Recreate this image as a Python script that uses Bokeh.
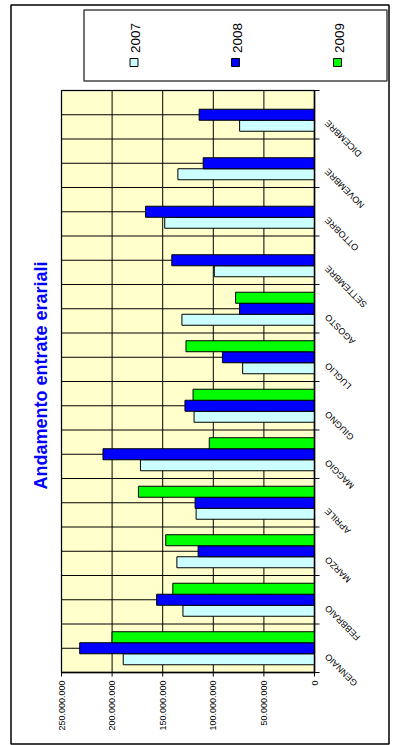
import math
import numpy as np

from bokeh.core.properties import value
from bokeh.embed import file_html
from bokeh.models import ColumnDataSource, Range1d
from bokeh.plotting import figure
from bokeh.resources import INLINE
from bokeh.transform import dodge

# ---- data -------------------------------------------------------------------
months = ["GENNAIO", "FEBBRAIO", "MARZO", "APRILE", "MAGGIO", "GIUGNO",
          "LUGLIO", "AGOSTO", "SETTEMBRE", "OTTOBRE", "NOVEMBRE", "DICEMBRE"]
years = ["2007", "2008", "2009"]
v2007 = [189e6, 130e6, 136e6, 117e6, 172e6, 119e6, 71e6, 131e6, 99e6, 148e6, 135e6, 74e6]
v2008 = [232e6, 156e6, 115e6, 118e6, 209e6, 128e6, 91e6, 74e6, 141e6, 167e6, 110e6, 114e6]
v2009 = [200e6, 140e6, 147e6, 174e6, 104e6, 120e6, 127e6, 78e6, None, None, None, None]
value_ticks = [0, 50e6, 100e6, 150e6, 200e6, 250e6]
title_text = "Andamento entrate erariali"

# ---- styling / layout ---------------------------------------------------------
colors = ["#CCFFFF", "#0000FF", "#00FF00"]
FONT = value("Liberation Sans")
W, H = 397, 745
PL, PR, PT, PB = 61, 314, 90, 672      # plotting area edges, in pixels

n = len(months)
vmax = value_ticks[-1]
kx = vmax / (PR - PL)                   # value units per pixel
ky = n / (PB - PT)                      # month slots per pixel


def as_array(vals):
    return np.array([np.nan if v is None else v for v in vals], dtype=float)


slot = np.arange(n) + 0.5               # centre of each month slot
src = ColumnDataSource(dict(month=months, slot=slot,
                            y2007=as_array(v2007),
                            y2008=as_array(v2008),
                            y2009=as_array(v2009)))

# The frame fills the whole canvas; value axis runs right-to-left.
p = figure(width=W, height=H, output_backend="svg", toolbar_location=None,
           x_axis_location=None, y_axis_location=None, min_border=0,
           x_range=Range1d(vmax + PL * kx, -(W - PR) * kx),
           y_range=Range1d(-(H - PB) * ky, n + PT * ky))
p.extra_x_ranges = {"px": Range1d(0, W)}
p.extra_y_ranges = {"px": Range1d(H, 0)}
p.outline_line_color = None
p.background_fill_color = "white"
p.border_fill_color = "white"
for g in p.grid:
    g.visible = False

# plotting area background and outline
p.quad(left=vmax, right=0, bottom=0, top=n, fill_color="#FFFFCC",
       line_color="#808080", line_width=1.5)

# grid: values every 50 million, months at boundaries and centres
p.segment(x0=value_ticks, x1=value_ticks, y0=0, y1=n,
          line_color="black", line_width=1)
half = np.arange(2 * n + 1) / 2
p.segment(x0=0, x1=vmax, y0=half, y1=half, line_color="black", line_width=1)

# ---- bars -------------------------------------------------------------------
bar_h = 0.227
offsets = [-bar_h, 0.0, bar_h]
for yr, col, off in zip(years, colors, offsets):
    p.hbar(y=dodge("slot", off), left=0, right="y" + yr, height=bar_h,
           fill_color=col, line_color="black", line_width=1, source=src)

# ---- value axis (bottom) ----------------------------------------------------
p.segment(x0=vmax, x1=0, y0=0, y1=0, line_color="black", line_width=1.5)
p.segment(x0=value_ticks, x1=value_ticks, y0=0, y1=-4 * ky,
          line_color="black", line_width=1)
tick_text = [f"{int(v):,}".replace(",", ".") for v in value_ticks]
p.text(x=value_ticks, y=-8 * ky, text=tick_text, angle=math.pi / 2,
       text_align="right", text_baseline="middle",
       text_font=FONT, text_font_size="9px", text_color="black")

# ---- month axis (right) -----------------------------------------------------
bounds = np.arange(n + 1)
p.segment(x0=0, x1=0, y0=0, y1=n, line_color="black", line_width=1.5)
p.segment(x0=0, x1=-5 * kx, y0=bounds, y1=bounds, line_color="black", line_width=1)
p.text(x=-12 * kx, y=dodge("slot", -7 * ky), text="month", source=src,
       angle=3 * math.pi / 4, text_align="right", text_baseline="middle",
       text_font=FONT, text_font_size="9px", text_color="black")

# ---- title ------------------------------------------------------------------
p.text(x=[40], y=[375], text=[title_text], x_range_name="px", y_range_name="px",
       angle=math.pi / 2, text_align="center", text_baseline="middle",
       text_font=FONT, text_font_size="18px", text_font_style="bold",
       text_color="#0000FF")

# ---- legend -----------------------------------------------------------------
p.quad(left=83.5, right=386.5, top=9.5, bottom=80.5,
       x_range_name="px", y_range_name="px",
       fill_color=None, line_color="#444444", line_width=1.5)
legend_x = np.array([133.5, 235.0, 337.0])
p.quad(left=legend_x - 4, right=legend_x + 4, top=58, bottom=66,
       x_range_name="px", y_range_name="px",
       fill_color=colors, line_color="black", line_width=1)
p.text(x=legend_x + 1.5, y=37.5, text=years,
       x_range_name="px", y_range_name="px",
       angle=math.pi / 2, text_align="center", text_baseline="middle",
       text_font=FONT, text_font_size="13.5px", text_color="black")

# ---- outer chart border -----------------------------------------------------
p.quad(left=10.5, right=388.5, top=4.5, bottom=743.5,
       x_range_name="px", y_range_name="px",
       fill_color=None, line_color="black", line_width=1.5)

open("out.html", "w").write(file_html(p, INLINE))
